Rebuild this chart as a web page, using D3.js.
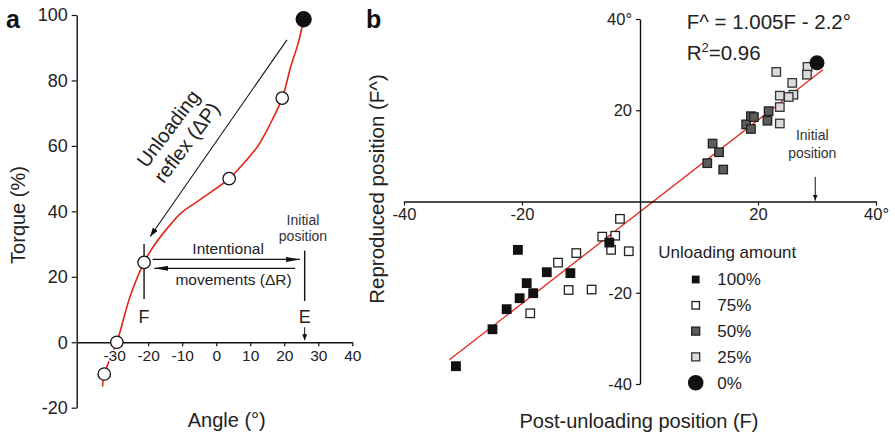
<!DOCTYPE html>
<html><head><meta charset="utf-8">
<script src="https://cdn.jsdelivr.net/npm/d3@7"></script>
<style>
body{margin:0;background:#fff;}
svg{display:block;font-family:"Liberation Sans",Arial,Helvetica,sans-serif;}
</style></head><body>
<svg id="chart" width="895" height="435"></svg>
<script>
// ---------- Panel a data ----------
const curveAngle  = [-33.4, -32.9, -29.2, -25.3, -21.2, -18.5, -13.1, -10.2, -4.4, 3.8, 7.3, 12.2, 16.0, 19.4, 21.9, 24.1, 25.7];
const curveTorque = [-13.5, -9.7, 0, 14, 24.4, 29.2, 36.4, 39.6, 43.8, 50, 53.8, 59.9, 67, 74.6, 84.2, 91.4, 98.7];
const circleAngle  = [-32.9, -29.2, -21.2, 3.8, 19.4, 25.7];
const circleTorque = [-9.7, 0, 24.4, 50, 74.6, 98.7];
const circleFilled = [false, false, false, false, false, true];
const yTicksA = [-20, 0, 20, 40, 60, 80, 100];
const xTicksA = [-30, -20, -10, 0, 10, 20, 30, 40];

// ---------- Panel b data ----------
const full100X = [-20.7, -15.8, -11.8, -19.2, -20.4, -18.1, -22.6, -25.0, -31.2, -5.2];
const full100Y = [-10.6, -15.5, -15.7, -17.9, -21.2, -20.1, -23.6, -28.0, -36.1, -9.0];
const open75X  = [-3.4, -6.4, -4.2, -4.9, -1.9, -10.8, -13.9, -12.1, -8.2, -18.6];
const open75Y  = [-3.8, -7.7, -7.5, -10.6, -10.9, -11.3, -13.4, -19.4, -19.3, -24.5];
const grey50X  = [12.3, 13.4, 11.4, 14.1, 18.0, 18.8, 19.3, 18.8, 21.8, 21.6];
const grey50Y  = [12.7, 10.8, 8.4, 7.0, 16.9, 18.7, 18.5, 15.9, 19.8, 17.7];
const light25X = [23.1, 28.4, 28.3, 25.8, 23.7, 26.0, 25.2, 23.7, 23.7];
const light25Y = [28.4, 29.5, 27.8, 26.0, 23.2, 23.4, 22.9, 20.7, 17.1];
const zero0X = [30.0];
const zero0Y = [30.4];
const fitX = [-32.3, 31.0];
const fitY = [-34.7, 28.9];
const ticksB = [-40, -20, 20, 40];
const legendLabels = ["100%", "75%", "50%", "25%", "0%"];

const svg = d3.select("#chart");
const defs = svg.append("defs");
function mk(id, w, h) {
  defs.append("marker").attr("id", id)
    .attr("viewBox", `0 0 ${w} ${h}`).attr("refX", w).attr("refY", h / 2)
    .attr("markerWidth", w).attr("markerHeight", h)
    .attr("markerUnits", "userSpaceOnUse").attr("orient", "auto")
    .append("path").attr("d", `M0,0L${w},${h / 2}L0,${h}Z`).attr("fill", "#111");
}
mk("hThin", 9, 6); mk("hLong", 14, 5); mk("hSmall", 6, 5);

const TXT = "#222";
function styleAxis(g, fs) {
  g.attr("font-size", null).attr("font-family", null);
  g.select(".domain").attr("stroke", "#111").attr("stroke-width", 1.4);
  g.selectAll(".tick line").attr("stroke", "#111").attr("stroke-width", 1.2);
  g.selectAll(".tick text").attr("font-size", fs).attr("fill", TXT)
    .attr("stroke", "#fff").attr("stroke-width", 3).attr("paint-order", "stroke");
}
const plain = d => String(d);

// ================= Panel a =================
const xA = d3.scaleLinear().domain([-41, 40]).range([76.7, 352.3]);
const yA = d3.scaleLinear().domain([-20, 100]).range([407.7, 15]);
const gA = svg.append("g");

const lineA = d3.line().x((d, i) => xA(curveAngle[i])).y((d, i) => yA(curveTorque[i])).curve(d3.curveCatmullRom.alpha(0.5));
gA.append("path").datum(curveAngle).attr("d", lineA).attr("fill", "none").attr("stroke", "#e3261c").attr("stroke-width", 1.6);

gA.append("g").attr("transform", `translate(${xA(-41)},0)`)
  .call(d3.axisLeft(yA).tickValues(yTicksA).tickFormat(plain).tickSize(5).tickSizeOuter(0).tickPadding(4))
  .call(g => styleAxis(g, 18));
gA.append("g").attr("transform", `translate(0,${yA(0)})`)
  .call(d3.axisBottom(xA).tickValues(xTicksA).tickFormat(plain).tickSize(4).tickSizeOuter(0).tickPadding(4))
  .call(g => styleAxis(g, 15.5));

// F and E markers
gA.append("line").attr("x1", xA(-21.2)).attr("x2", xA(-21.2)).attr("y1", yA(30)).attr("y2", yA(13.2)).attr("stroke", "#111").attr("stroke-width", 1.4);
gA.append("line").attr("x1", xA(26)).attr("x2", xA(26)).attr("y1", yA(28)).attr("y2", yA(12.6)).attr("stroke", "#111").attr("stroke-width", 1.4);
gA.append("text").attr("x", xA(-21.2)).attr("y", yA(7.8)).attr("dy", "0.35em").attr("text-anchor", "middle").attr("font-size", 18).attr("fill", TXT).text("F");
gA.append("text").attr("x", xA(26)).attr("y", yA(7.8)).attr("dy", "0.35em").attr("text-anchor", "middle").attr("font-size", 18).attr("fill", TXT).text("E");
gA.append("line").attr("x1", xA(26)).attr("x2", xA(26)).attr("y1", yA(4.6)).attr("y2", yA(0.6)).attr("stroke", "#111").attr("stroke-width", 1).attr("marker-end", "url(#hSmall)");

// Initial position
gA.append("text").attr("x", xA(25.5)).attr("y", yA(37.3)).attr("dy", "0.35em").attr("text-anchor", "middle").attr("font-size", 14).attr("fill", "#333").text("Initial");
gA.append("text").attr("x", xA(25.5)).attr("y", yA(32.5)).attr("dy", "0.35em").attr("text-anchor", "middle").attr("font-size", 14).attr("fill", "#333").text("position");

// Intentional movements arrows
gA.append("line").attr("x1", xA(-18.7)).attr("x2", xA(24.6)).attr("y1", yA(25.3)).attr("y2", yA(25.3)).attr("stroke", "#111").attr("stroke-width", 1.2).attr("marker-end", "url(#hLong)");
gA.append("line").attr("x1", xA(23.2)).attr("x2", xA(-18.2)).attr("y1", yA(22.6)).attr("y2", yA(22.6)).attr("stroke", "#111").attr("stroke-width", 1.2).attr("marker-end", "url(#hLong)");
gA.append("text").attr("x", xA(3.5)).attr("y", yA(28.6)).attr("dy", "0.35em").attr("text-anchor", "middle").attr("font-size", 15.5).attr("fill", TXT).text("Intentional");
gA.append("text").attr("x", xA(5.1)).attr("y", yA(19.2)).attr("dy", "0.35em").attr("text-anchor", "middle").attr("font-size", 15.5).attr("fill", TXT).text("movements (ΔR)");

// Unloading reflex arrow + text
gA.append("line").attr("x1", xA(20.8)).attr("y1", yA(92.4)).attr("x2", xA(-19.4)).attr("y2", yA(32.3)).attr("stroke", "#111").attr("stroke-width", 1.1).attr("marker-end", "url(#hThin)");
const ut = gA.append("text").attr("transform", `translate(${xA(-11.4)},${yA(63.2)}) rotate(-53)`).attr("text-anchor", "middle").attr("font-size", 20).attr("fill", TXT);
ut.append("tspan").attr("x", 0).attr("y", -4.6).text("Unloading");
ut.append("tspan").attr("x", 0).attr("y", 18.6).text("reflex (ΔP)");

// Circles
gA.selectAll("circle.pt").data(circleAngle).join("circle").attr("class", "pt")
  .attr("cx", (d, i) => xA(circleAngle[i])).attr("cy", (d, i) => yA(circleTorque[i]))
  .attr("r", (d, i) => circleFilled[i] ? 7.5 : 6.2)
  .attr("fill", (d, i) => circleFilled[i] ? "#111" : "#fff")
  .attr("stroke", "#111").attr("stroke-width", 1.3);

// Axis titles a
gA.append("text").attr("transform", `translate(17.5,215) rotate(-90)`).attr("dy", "0.35em").attr("text-anchor", "middle").attr("font-size", 20).attr("fill", TXT).text("Torque (%)");
gA.append("text").attr("x", 226.7).attr("y", 420).attr("dy", "0.35em").attr("text-anchor", "middle").attr("font-size", 20).attr("fill", TXT).text("Angle (°)");
svg.append("text").attr("x", 6).attr("y", 28.3).attr("font-size", 25).attr("font-weight", "bold").attr("fill", "#111").text("a");
svg.append("text").attr("x", 366).attr("y", 28.3).attr("font-size", 25).attr("font-weight", "bold").attr("fill", "#111").text("b");

// ================= Panel b =================
const xB = d3.scaleLinear().domain([-40, 40]).range([404, 876]);
const yB = d3.scaleLinear().domain([-40, 40]).range([384, 19]);
const gB = svg.append("g");
const fmtB = d => d === 40 ? "40°" : String(d);

gB.append("path").datum(fitX).attr("d", d3.line().x((d, i) => xB(fitX[i])).y((d, i) => yB(fitY[i])))
  .attr("stroke", "#e3261c").attr("stroke-width", 1.3).attr("fill", "none");

gB.append("g").attr("transform", `translate(0,${yB(0)})`)
  .call(d3.axisBottom(xB).tickValues(ticksB).tickFormat(fmtB).tickSize(4).tickSizeOuter(0).tickPadding(3))
  .call(g => styleAxis(g, 16.5));
gB.append("g").attr("transform", `translate(${xB(0)},0)`)
  .call(d3.axisLeft(yB).tickValues(ticksB).tickFormat(fmtB).tickSize(4).tickSizeOuter(0).tickPadding(4))
  .call(g => styleAxis(g, 16.5));

function squares(xs, ys, side, fill, stroke) {
  gB.append("g").selectAll("rect").data(xs).join("rect")
    .attr("x", (d, i) => xB(xs[i]) - side / 2).attr("y", (d, i) => yB(ys[i]) - side / 2)
    .attr("width", side).attr("height", side)
    .attr("fill", fill).attr("stroke", stroke).attr("stroke-width", 1.3);
}
squares(open75X, open75Y, 8.5, "#fff", "#222");
squares(full100X, full100Y, 8.5, "#111", "#111");
squares(grey50X, grey50Y, 8.5, "#5c5c5c", "#222");
squares(light25X, light25Y, 8.5, "#dcdcdc", "#333");
gB.append("g").selectAll("circle").data(zero0X).join("circle")
  .attr("cx", (d, i) => xB(zero0X[i])).attr("cy", (d, i) => yB(zero0Y[i])).attr("r", 7.5).attr("fill", "#111");

// Initial position b
gB.append("text").attr("x", xB(29.2)).attr("y", yB(14.6)).attr("dy", "0.35em").attr("text-anchor", "middle").attr("font-size", 14).attr("fill", "#333").text("Initial");
gB.append("text").attr("x", xB(29.2)).attr("y", yB(10.6)).attr("dy", "0.35em").attr("text-anchor", "middle").attr("font-size", 14).attr("fill", "#333").text("position");
gB.append("line").attr("x1", xB(29.7)).attr("x2", xB(29.7)).attr("y1", yB(5.4)).attr("y2", yB(0.2)).attr("stroke", "#111").attr("stroke-width", 1).attr("marker-end", "url(#hSmall)");

// Equation
gB.append("text").attr("x", 686.7).attr("y", 29.3).attr("font-size", 20.5).attr("fill", TXT).text("F^ = 1.005F - 2.2°");
const r2 = gB.append("text").attr("x", 686.7).attr("y", 60).attr("font-size", 20.5).attr("fill", TXT);
r2.append("tspan").text("R");
r2.append("tspan").attr("font-size", 13).attr("dy", -8).text("2");
r2.append("tspan").attr("dy", 8).text("=0.96");

// Legend
const lg = gB.append("g");
lg.append("text").attr("x", 658.3).attr("y", 252.3).attr("dy", "0.35em").attr("font-size", 17).attr("fill", TXT).text("Unloading amount");
const legStyle = [
  {shape: "rect", side: 6.5, fill: "#111", stroke: "#111"},
  {shape: "rect", side: 7.5, fill: "#fff", stroke: "#222"},
  {shape: "rect", side: 8, fill: "#5c5c5c", stroke: "#222"},
  {shape: "rect", side: 8, fill: "#dcdcdc", stroke: "#333"},
  {shape: "circle", r: 7.8, fill: "#111"}
];
legendLabels.forEach((lab, i) => {
  const cy = 279.5 + i * 25.8, cx = 695.7, s = legStyle[i];
  if (s.shape === "rect") {
    lg.append("rect").attr("x", cx - s.side / 2).attr("y", cy - s.side / 2).attr("width", s.side).attr("height", s.side)
      .attr("fill", s.fill).attr("stroke", s.stroke).attr("stroke-width", 1.3);
  } else {
    lg.append("circle").attr("cx", cx).attr("cy", cy).attr("r", s.r).attr("fill", s.fill);
  }
  lg.append("text").attr("x", 717.3).attr("y", cy).attr("dy", "0.35em").attr("font-size", 17).attr("fill", TXT).text(lab);
});

// Axis titles b
gB.append("text").attr("transform", `translate(377,189) rotate(-90)`).attr("dy", "0.35em").attr("text-anchor", "middle").attr("font-size", 20.5).attr("fill", TXT).text("Reproduced position (F^)");
gB.append("text").attr("x", 639).attr("y", 421).attr("dy", "0.35em").attr("text-anchor", "middle").attr("font-size", 20).attr("fill", TXT).text("Post-unloading position (F)");
</script>
</body></html>
